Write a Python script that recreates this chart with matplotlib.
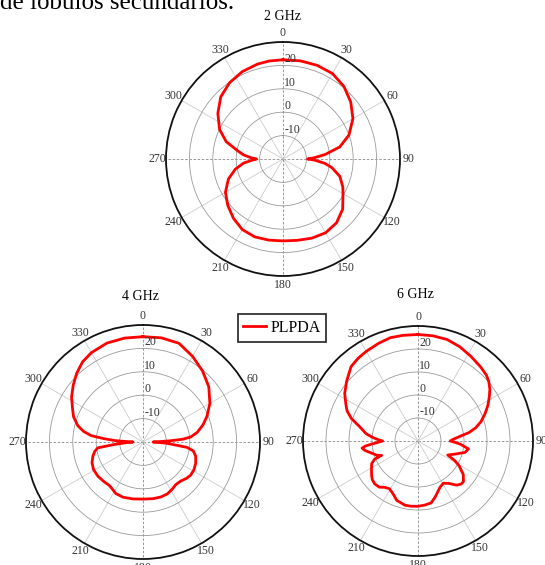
import numpy as np
import matplotlib.pyplot as plt
from matplotlib.transforms import offset_copy

plt.rcParams['font.family'] = ['Liberation Serif', 'DejaVu Serif']

# radiation patterns: angle (deg), gain (dB)
ang_2g = [0, 10, 20, 30, 40, 50, 60, 70, 78, 84, 88, 90, 92, 96, 100, 107,
          115, 120, 130, 140, 150, 160, 170, 180, 190, 200, 210, 220, 230,
          240, 250, 258, 264, 268, 270, 272, 276, 280, 287, 295, 305, 315,
          325, 335, 345, 352]
db_2g = [22.4, 22.6, 22.6, 22.2, 20.5, 17.8, 14.5, 10.0, 4.8, -2.0, -7.0,
         -9.5, -6.5, -2.0, 1.2, 5.4, 8.2, 9.6, 13.3, 15.6, 16.4, 16.0, 15.3,
         15.0, 15.2, 15.4, 14.8, 13.0, 10.8, 8.4, 4.8, 0.8, -3.0, -7.0, -8.7,
         -6.5, -3.0, -0.5, 5.4, 9.9, 14.0, 17.6, 19.8, 21.2, 22.0, 22.3]

ang_4g = [0, 10, 20, 30, 40, 50, 60, 68, 74, 80, 84, 86, 87.5, 89, 90, 91,
          93, 95, 97, 100, 105, 112, 119, 125, 130, 136, 143, 148, 155, 162,
          170, 180, 190, 200, 208, 213, 218, 225, 233, 241, 248, 254, 259,
          262.6, 265, 268, 270, 271.5, 272.8, 275, 277, 280, 284, 290, 295,
          302, 309, 316, 323, 330, 340, 350]
db_4g = [25.0, 25.2, 24.9, 22.3, 19.6, 16.7, 13.0, 9.5, 6.7, 3.5, 0.5, -3.0,
         -8.5, -13.5, -15.7, -14.0, -10.0, -6.8, -1.0, 1.8, 3.3, 4.3, 4.8,
         4.8, 4.2, 3.2, 3.0, 3.7, 4.5, 4.7, 4.6, 4.4, 4.7, 5.1, 4.9, 4.0, 3.5,
         3.8, 4.2, 4.2, 3.5, 2.3, 1.0, -0.5, -7.4, -13.0, -15.7, -13.0, -8.1,
         -3.0, 2.3, 5.7, 8.7, 11.6, 13.2, 16.0, 18.4, 20.8, 22.9, 24.1, 25.0,
         25.1]

ang_6g = [0, 8, 16, 24, 32, 40, 46, 50, 54, 58, 63, 68, 73, 77, 80.6, 84, 87,
          90, 92, 94.3, 98.9, 103.7, 109.4, 115.3, 118, 121, 126.5, 131.8,
          135, 138.8, 144, 149, 154.6, 159, 163, 168, 173.8, 180, 186, 191.4,
          199.8, 204, 207.3, 211, 215.7, 220, 225.2, 230, 233.8, 239, 244,
          247.2, 248.5, 251, 254, 256.6, 260, 262.8, 264.5, 266, 268, 270,
          272, 275, 278, 283.6, 288.7, 293, 297, 303, 310, 318, 324, 330, 338,
          345, 352]
db_6g = [26.3, 26.2, 25.9, 24.8, 23.4, 22.2, 21.3, 20.2, 18.6, 16.6, 14.1,
         11.4, 8.6, 5.8, 2.5, -2.0, -4.5, -6.0, -4.0, -1.5, 2.2, 1.0, -2.9,
         -5.7, -2.0, 0.8, 4.5, 6.5, 6.5, 5.5, 2.8, 1.4, 2.3, 3.8, 5.5, 7.5,
         8.0, 8.4, 8.5, 8.5, 7.4, 5.8, 4.9, 4.2, 4.8, 6.2, 6.5, 6.0, 5.0, 3.6,
         2.4, 0.5, -3.0, -1.0, 0.2, 1.5, 3.5, 4.5, 3.0, 0.5, -2.5, -4.6, -2.5,
         0.2, 2.8, 6.0, 10.6, 13.5, 15.2, 18.0, 20.5, 23.5, 24.4, 25.0, 25.8,
         26.5, 26.4]

titles = ['2 GHz', '4 GHz', '6 GHz']
theta_ticks = np.arange(0, 360, 30)
r_ticks = [-10, 0, 10, 20]
r_min, r_max = -20, 30
legend_label = 'PLPDA'
intro_text = 'de lóbulos secundarios.'

W, H = 545, 565
fig = plt.figure(figsize=(W / 100, H / 100), dpi=100)


def box(cx, cy, r):
    return [(cx - r) / W, (H - cy - r) / H, 2 * r / W, 2 * r / H]


def polar_panel(rect, ang, db, title, tx, ty):
    ax = fig.add_axes(rect, projection='polar')
    ax.set_theta_zero_location('N')
    ax.set_theta_direction(-1)
    ax.set_ylim(r_min, r_max)
    ax.set_yticks(r_ticks)
    ax.set_yticklabels([])
    ax.set_xticks(np.deg2rad(theta_ticks))
    ax.set_xticklabels([str(t) for t in theta_ticks], fontsize=8.5, color='#333333')
    ax.tick_params(axis='x', pad=-4)
    ax.grid(True, color='#9a9a9a', lw=0.6)
    for t, gl in zip(theta_ticks, ax.xaxis.get_gridlines()):
        if t % 90 == 0:
            gl.set_linestyle((0, (3, 2)))
            gl.set_color('#888888')
        else:
            gl.set_color('#cccccc')
    ax.spines['polar'].set_linewidth(1.3)
    ax.spines['polar'].set_color('#111111')
    tr = offset_copy(ax.transData, fig=fig, x=1.0, y=0.0, units='points')
    for r in r_ticks:
        ax.text(0, r, str(r), transform=tr, ha='left', va='bottom',
                fontsize=8.5, color='#333333')
    a = np.deg2rad(np.append(ang, ang[0] + 360))
    d = np.append(db, db[0])
    line, = ax.plot(a, d, color='red', lw=2.0, solid_joinstyle='round')
    fig.text(tx / W, 1 - ty / H, title, ha='center', va='center', fontsize=10)
    return line


line = polar_panel(box(283, 159, 117), ang_2g, db_2g, titles[0], 283, 17)
polar_panel(box(143, 442, 117), ang_4g, db_4g, titles[1], 141, 297)
polar_panel(box(418, 441, 115), ang_6g, db_6g, titles[2], 415, 294)

leg = fig.legend([line], [legend_label], loc='center',
                 bbox_to_anchor=(282 / W, 1 - 328 / H), frameon=True,
                 fancybox=False, edgecolor='#222222', framealpha=1,
                 fontsize=11.5, handlelength=1.4, handletextpad=0.3,
                 borderpad=0.35)
leg.get_frame().set_linewidth(1.2)

fig.text(0, 1 - 9 / H, intro_text, ha='left', va='baseline', fontsize=18)

fig.savefig('out.png', dpi=100)
